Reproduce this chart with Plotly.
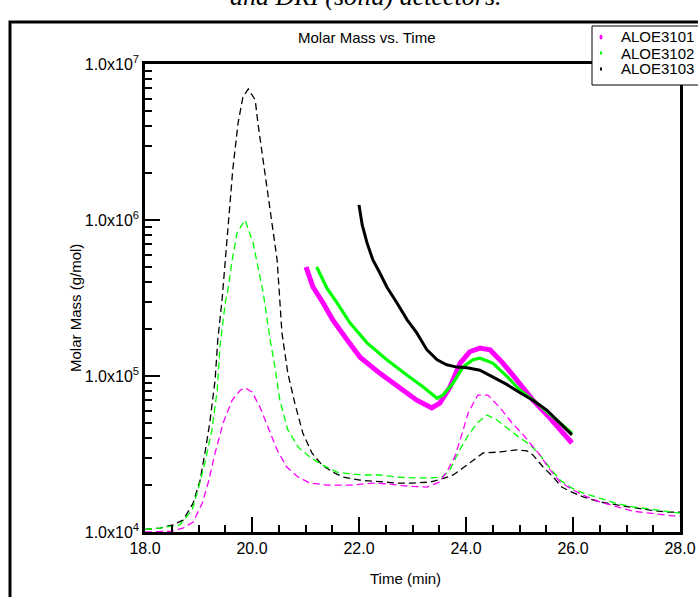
import plotly.graph_objects as go

# ---------------- data ----------------
# dashed curves (detector traces)
t_dash_black = [18.0, 18.28, 18.52, 18.71, 18.90, 19.03, 19.12, 19.21, 19.31, 19.36, 19.44, 19.55, 19.64, 19.74, 19.83, 19.93,
                20.06, 20.11, 20.21, 20.30, 20.39, 20.47, 20.56, 20.67, 20.80, 20.95, 21.12, 21.31, 21.51, 21.70, 22.02,
                22.39, 22.71, 23.01, 23.33, 23.61, 23.76, 23.94, 24.13, 24.32, 24.64, 24.95, 25.14, 25.25, 25.44, 25.63,
                25.79, 25.98, 26.19, 26.50, 26.82, 27.12, 27.44, 27.76, 28.0]
m_dash_black = [1.04e4, 1.06e4, 1.11e4, 1.19e4, 1.53e4, 2.15e4, 3.21e4, 5.0e4, 9.4e4, 1.70e5, 3.07e5, 9.0e5, 2.09e6, 4.19e6, 6.14e6, 6.92e6,
                5.88e6, 4.19e6, 2.43e6, 1.49e6, 9.0e5, 5.54e5, 1.89e5, 1.04e5, 6.7e4, 4.31e4, 3.21e4, 2.69e4, 2.42e4, 2.25e4, 2.15e4,
                2.09e4, 2.06e4, 2.06e4, 2.09e4, 2.22e4, 2.32e4, 2.57e4, 2.89e4, 3.21e4, 3.26e4, 3.36e4, 3.31e4, 3.12e4, 2.61e4, 2.25e4,
                1.94e4, 1.80e4, 1.68e4, 1.56e4, 1.49e4, 1.43e4, 1.38e4, 1.34e4, 1.34e4]

t_dash_green = [18.0, 18.28, 18.65, 18.88, 18.99, 19.12, 19.25, 19.35, 19.40, 19.50, 19.55, 19.63, 19.72, 19.87, 20.02, 20.11,
                20.21, 20.34, 20.43, 20.52, 20.67, 20.86, 21.08, 21.31, 21.59, 21.83, 22.07, 22.39, 22.71, 23.01, 23.33,
                23.55, 23.70, 23.85, 24.02, 24.21, 24.39, 24.58, 24.77, 25.01, 25.20, 25.38, 25.57, 25.76, 25.98, 26.19,
                26.50, 26.79, 27.12, 27.44, 27.87, 28.0]
m_dash_green = [1.04e4, 1.06e4, 1.11e4, 1.38e4, 1.86e4, 2.77e4, 4.51e4, 8.1e4, 1.53e5, 2.94e5, 3.56e5, 5.54e5, 8.26e5, 1.0e6, 7.13e5, 5.0e5,
                3.41e5, 1.70e5, 1.14e5, 7.0e4, 4.51e4, 3.51e4, 3.03e4, 2.69e4, 2.42e4, 2.36e4, 2.32e4, 2.32e4, 2.25e4, 2.22e4, 2.22e4,
                2.25e4, 2.50e4, 3.21e4, 4.06e4, 5.0e4, 5.62e4, 5.22e4, 4.64e4, 4.01e4, 3.61e4, 3.12e4, 2.57e4, 2.15e4, 1.91e4, 1.78e4,
                1.65e4, 1.53e4, 1.45e4, 1.40e4, 1.34e4, 1.32e4]

t_dash_magenta = [18.0, 18.47, 18.71, 18.90, 19.07, 19.18, 19.31, 19.46, 19.63, 19.78, 19.87, 20.0, 20.15, 20.30, 20.47, 20.65,
                  20.86, 21.08, 21.40, 21.89, 22.26, 22.58, 22.90, 23.27, 23.51, 23.66, 23.79, 23.93, 24.04, 24.22, 24.41,
                  24.64, 24.86, 25.07, 25.20, 25.38, 25.57, 25.76, 26.0, 26.26, 26.50, 26.82, 27.12, 27.44, 27.85, 28.0]
m_dash_magenta = [1.0e4, 1.01e4, 1.06e4, 1.16e4, 1.53e4, 2.06e4, 3.21e4, 5.0e4, 7.0e4, 8.1e4, 8.4e4, 7.9e4, 6.3e4, 4.71e4, 3.36e4, 2.61e4,
                  2.25e4, 2.06e4, 2.0e4, 2.0e4, 2.06e4, 2.03e4, 1.97e4, 1.94e4, 2.09e4, 2.50e4, 3.03e4, 4.31e4, 5.79e4, 7.55e4, 7.55e4,
                  6.24e4, 5.0e4, 4.19e4, 3.72e4, 3.12e4, 2.50e4, 2.09e4, 1.86e4, 1.68e4, 1.56e4, 1.45e4, 1.36e4, 1.32e4, 1.27e4, 1.27e4]

# solid marker series (molar mass)
t_3101 = [21.01, 21.08, 21.14, 21.33, 21.51, 21.78, 22.02, 22.39, 22.77, 23.08, 23.36, 23.51, 23.70, 23.89, 24.07, 24.26,
          24.45, 24.69, 24.95, 25.25, 25.57, 25.89, 25.98]
m_3101 = [5.0e5, 4.25e5, 3.72e5, 2.94e5, 2.29e5, 1.70e5, 1.32e5, 1.04e5, 8.4e4, 7.0e4, 6.24e4, 6.7e4, 8.5e4, 1.21e5, 1.43e5, 1.51e5,
          1.47e5, 1.21e5, 9.4e4, 7.0e4, 5.38e4, 4.06e4, 3.72e4]

t_3102 = [21.21, 21.40, 21.59, 21.83, 22.15, 22.52, 22.90, 23.20, 23.46, 23.57, 23.76, 23.94, 24.13, 24.26, 24.50, 24.77,
          25.01, 25.33, 25.63, 25.94, 25.98]
m_3102 = [5.0e5, 3.66e5, 2.94e5, 2.19e5, 1.63e5, 1.27e5, 1.01e5, 8.5e4, 7.2e4, 7.55e4, 9.0e4, 1.14e5, 1.27e5, 1.30e5, 1.21e5, 9.9e4,
          8.1e4, 6.7e4, 5.46e4, 4.38e4, 4.3e4]

t_3103 = [22.0, 22.06, 22.15, 22.26, 22.39, 22.52, 22.71, 22.90, 23.08, 23.27, 23.46, 23.64, 23.83, 24.02, 24.26, 24.50,
          24.77, 25.01, 25.25, 25.51, 25.76, 25.98]
m_3103 = [1.25e6, 9.3e5, 7.13e5, 5.54e5, 4.57e5, 3.72e5, 2.94e5, 2.29e5, 1.89e5, 1.47e5, 1.27e5, 1.18e5, 1.14e5, 1.13e5, 1.09e5, 9.9e4,
          8.8e4, 7.8e4, 7.0e4, 6.05e4, 5.0e4, 4.19e4]

series_names = ["ALOE3101", "ALOE3102", "ALOE3103"]
y_tick_vals = [1e4, 1e5, 1e6, 1e7]
y_tick_text = ["1.0x10<sup>4</sup>", "1.0x10<sup>5</sup>", "1.0x10<sup>6</sup>", "1.0x10<sup>7</sup>"]
x_tick_vals = [18, 20, 22, 24, 26, 28]

MAG, GRN, BLK = "#ff00ff", "#00ff00", "#000000"
FONT = "Liberation Sans, Arial, sans-serif"

# page geometry (body margin removed, figure fills the window)
W, H = 698, 597
PL, PR, PT, PB = 145, 680, 64, 532      # plot area in page pixels
L, R, T, B = PL, W - PR, PT, H - PB
PW, PH = PR - PL, PB - PT

def px(x):
    return (x - PL) / PW

def py(y):
    return (PB - y) / PH

fig = go.Figure()

dash = "7px,4px"
for t, m, c in [(t_dash_black, m_dash_black, BLK), (t_dash_green, m_dash_green, GRN), (t_dash_magenta, m_dash_magenta, MAG)]:
    fig.add_trace(go.Scatter(x=t, y=m, mode="lines", line=dict(color=c, width=1.3, dash=dash),
                             showlegend=False, hoverinfo="skip"))

for t, m, c, w, n in [(t_3101, m_3101, MAG, 5, series_names[0]), (t_3102, m_3102, GRN, 3.2, series_names[1]),
                      (t_3103, m_3103, BLK, 3, series_names[2])]:
    fig.add_trace(go.Scatter(x=t, y=m, mode="lines", name=n, line=dict(color=c, width=w), showlegend=False))

shapes = []
# outer frame
shapes.append(dict(type="rect", xref="paper", yref="paper", x0=px(10), x1=px(720), y0=py(22), y1=py(640),
                   line=dict(color="black", width=3), fillcolor="rgba(0,0,0,0)", layer="below"))
# legend box
shapes.append(dict(type="rect", xref="paper", yref="paper", x0=px(592), x1=px(720), y0=py(26), y1=py(85),
                   line=dict(color="black", width=1), fillcolor="white", layer="above"))
annotations = []
leg_rows = [37, 53, 69]
leg_sizes = [(1.5, 2.5), (1.2, 1.8), (1.0, 2.0)]
for n, c, yy, (rx, ry) in zip(series_names, [MAG, GRN, BLK], leg_rows, leg_sizes):
    shapes.append(dict(type="circle", xref="paper", yref="paper", x0=px(601 - rx), x1=px(601 + rx),
                       y0=py(yy - ry), y1=py(yy + ry), fillcolor=c, line=dict(width=0), layer="above"))
    annotations.append(dict(text=n, xref="paper", yref="paper", x=px(619), y=py(yy), xanchor="left", yanchor="middle",
                            showarrow=False, font=dict(family=FONT, size=15, color="black")))

annotations += [
    dict(text="<i>and DRI (solid) detectors.</i>", xref="paper", yref="paper", x=px(366), y=py(-4), xanchor="center",
         yanchor="middle", showarrow=False,
         font=dict(family="Liberation Serif, Times New Roman, serif", size=26, color="black")),
    dict(text="Molar Mass vs. Time", xref="paper", yref="paper", x=px(367), y=py(38), xanchor="center", yanchor="middle",
         showarrow=False, font=dict(family=FONT, size=15, color="black")),
    dict(text="Molar Mass (g/mol)", xref="paper", yref="paper", x=px(75), y=py(308), xanchor="center", yanchor="middle",
         textangle=-90, showarrow=False, font=dict(family=FONT, size=15, color="black")),
    dict(text="Time (min)", xref="paper", yref="paper", x=px(405), y=py(578), xanchor="center", yanchor="middle",
         showarrow=False, font=dict(family=FONT, size=15, color="black")),
]

fig.update_layout(
    width=W, height=H,
    margin=dict(l=L, r=R, t=T, b=B, autoexpand=False),
    paper_bgcolor="white", plot_bgcolor="white",
    showlegend=False,
    shapes=shapes, annotations=annotations,
    xaxis=dict(range=[18, 28], tickvals=x_tick_vals, tickformat=".1f", ticks="inside", ticklen=15, tickwidth=2,
               tickcolor="black", showline=True, linewidth=2.5, linecolor="black", mirror=True, showgrid=False,
               zeroline=False, tickfont=dict(family=FONT, size=16, color="black"),
               minor=dict(dtick=0.5, tick0=18, ticks="inside", ticklen=7, tickwidth=1.5, tickcolor="black", showgrid=False)),
    yaxis=dict(type="log", range=[4, 7], tickvals=y_tick_vals, ticktext=y_tick_text, ticks="inside", ticklen=15,
               tickwidth=2, tickcolor="black", showline=True, linewidth=2.5, linecolor="black", mirror=True,
               showgrid=False, zeroline=False, tickfont=dict(family=FONT, size=16, color="black"),
               minor=dict(tickvals=[k * 10 ** e for e in (4, 5, 6) for k in range(2, 10)], ticks="inside", ticklen=7,
                          tickwidth=1.5, tickcolor="black", showgrid=False)),
)

fig.write_html("out.html", config={"displayModeBar": False},
               post_script="document.body.style.margin='0px';document.body.style.overflow='hidden';")
